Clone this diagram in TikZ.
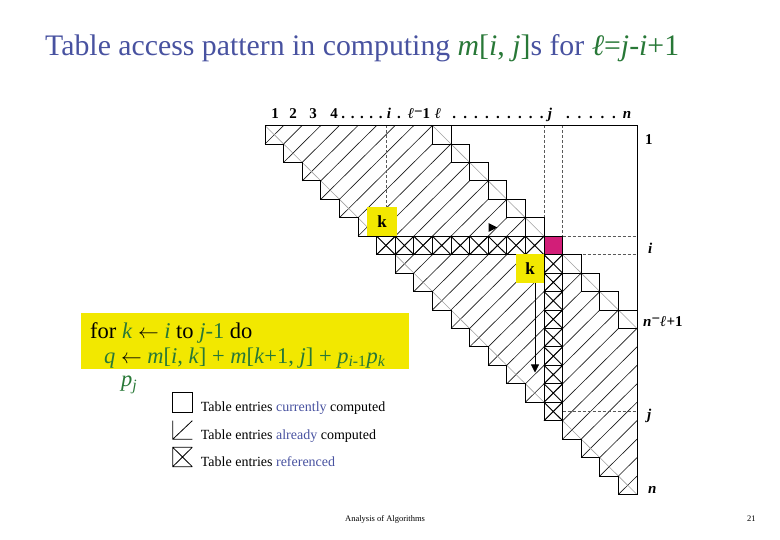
\documentclass[tikz,border=0pt]{standalone}
\usepackage{fontspec}
\setmainfont{Liberation Serif}
\usetikzlibrary{arrows.meta,positioning,calc}
\definecolor{SlideBlue}{RGB}{72,82,160}
\definecolor{SlideGreen}{RGB}{40,120,55}
\definecolor{SlideYellow}{RGB}{242,232,0}
\definecolor{SlideMagenta}{RGB}{210,30,120}
\definecolor{SlideGray}{RGB}{160,160,160}
\newcommand{\pontos}[2]{.\foreach \p in {2,...,#1}{\hspace{#2}.}}
\tikzset{
  hachura/.style={line width=0.65pt, black!90},
  diagcinza/.style={line width=0.6pt, SlideGray},
  degrau/.style={line width=0.8pt, black},
  cruz/.style={line width=0.9pt, black},
  tracejada/.style={dash pattern=on 3pt off 2pt, line width=0.7pt, black!65},
  caixak/.style={fill=SlideYellow, inner sep=0pt, font=\fontsize{17}{17}\selectfont\bfseries},
  rotulo/.style={font=\fontsize{15}{15}\selectfont\bfseries, inner sep=0pt, anchor=base},
  legenda/.style={font=\fontsize{14}{14}\selectfont, anchor=base west, inner sep=0pt},
  codigo/.style={font=\fontsize{22.5}{22.5}\selectfont, anchor=base west, inner sep=0pt},
  seta/.style={-{Triangle[length=8pt,width=8pt]}, line width=0.8pt},
}

\begin{document}
\begin{tikzpicture}[x=1pt,y=-1pt]
  \useasboundingbox (0,0) rectangle (780,540);

  % Titulo
  \node[anchor=base west, inner sep=0pt, font=\fontsize{29.8}{30}\selectfont, text=SlideBlue] (titulo) at (45,56)
    {Table access pattern in computing \textcolor{SlideGreen}{\textit{m}[\textit{i}, \textit{j}]}s for
     \textcolor{SlideGreen}{\textit{ℓ}=\textit{j}-\textit{i}+1}};

  % Tabela m[i,j] (celula (r,c) vai de (c-1,r-1) a (c,r))
  \begin{scope}[shift={(265,125.5)}, x=18.6pt, y=-18.45pt]
    % ja calculadas
    \foreach \r in {1,...,20}{
      \pgfmathtruncatemacro\cmax{min(\r+8,20)}
      \foreach \c in {\r,...,\cmax}
        \draw[hachura] (\c-1,\r) -- (\c,\r-1);
    }
    \draw[diagcinza] (0,0) -- (20,20);
    \draw[diagcinza] (9,0) -- (20,11);

    % linhas de referencia
    \draw[tracejada] (15,0) -- (15,6);
    \draw[tracejada] (16,0) -- (16,6);
    \draw[tracejada] (16,6) -- (20,6);
    \draw[tracejada] (16,7) -- (20,7);
    \draw[tracejada] (16,15.5) -- (20,15.5);
    \draw[tracejada] (6.5,0) -- (6.5,5);

    % entrada atual m[i,j]
    \fill[SlideMagenta] (15,6) rectangle (16,7);

    % entradas referenciadas: linha i e coluna j
    \foreach \c in {7,...,15}{
      \draw[cruz] (\c-1,6) rectangle (\c,7);
      \draw[cruz] (\c-1,6) -- (\c,7) (\c-1,7) -- (\c,6);
    }
    \foreach \r in {8,...,16}{
      \draw[cruz] (15,\r-1) rectangle (16,\r);
      \draw[cruz] (15,\r-1) -- (16,\r) (15,\r) -- (16,\r-1);
    }
    \draw[degrau] (15,6) rectangle (16,7);

    % diagonal atual j-i+1 = l
    \foreach \r in {1,...,11}
      \draw[degrau] (\r+8,\r-1) rectangle (\r+9,\r);

    % contorno
    \draw[degrau] (0,0) -- (20,0) -- (20,20);
    \draw[degrau] (0,0) \foreach \k in {1,...,20}{ -- (\k-1,\k) -- (\k,\k)};
  \end{scope}

  % Indices k
  \node[caixak, minimum width=29.4pt, minimum height=29.3pt] (k1) at (382,221.3) {k};
  \node[caixak, minimum width=28.3pt, minimum height=28.7pt] (k2) at (530.2,268.3) {k};
  \fill (488.5,223) -- (497.3,227.5) -- (488.5,232) -- cycle;
  \coordinate (fimseta) at (535,372.5);
  \draw[seta] (k2.south -| fimseta) -- (fimseta);

  % Rotulos das colunas
  \node[rotulo] (c1) at (275,119) {1};
  \node[rotulo] (c2) at (293,119) {2};
  \node[rotulo] (c3) at (313,119) {3};
  \node[rotulo] (c4) at (334,119) {4};
  \node[rotulo] (d1) at (362,119) {\pontos{5}{5.6pt}};
  \node[rotulo] (ci) at (389,119) {\textit{i}};
  \node[rotulo] (d2) at (399,119) {.};
  \node[rotulo] (cl1) at (419,119) {\textit{ℓ}\raisebox{2pt}{−}1};
  \node[rotulo] (cl) at (438,119) {\textit{ℓ}};
  \node[rotulo] (d3) at (498,119) {\pontos{9}{7.2pt}};
  \node[rotulo] (cj) at (550,119) {\textit{j}};
  \node[rotulo] (d4) at (591,119) {\pontos{5}{7.7pt}};
  \node[rotulo] (cn) at (627,119) {\textit{n}};

  % Rotulos das linhas
  \node[rotulo, anchor=base west] (r1) at (645,145) {1};
  \node[rotulo, anchor=base west] (ri) at (648,254) {\textit{i}};
  \node[rotulo, anchor=base west] (rnl) at (643,327) {\textit{n}\raisebox{3pt}{−}\textit{ℓ}+1};
  \node[rotulo, anchor=base west] (rj) at (647,420) {\textit{j}};
  \node[rotulo, anchor=base west] (rn) at (648,493) {\textit{n}};

  % Laco
  \node[fill=SlideYellow, anchor=north west, inner sep=0pt, minimum width=328pt, minimum height=56.6pt] (laco) at (80.7,312.7) {};
  \node[codigo] (linha1) at (90,338)
    {for \textcolor{SlideGreen}{\textit{k}} $\leftarrow$ \textcolor{SlideGreen}{\textit{i}} to \textcolor{SlideGreen}{\textit{j}-1} do};
  \node[codigo, text=SlideGreen] (linha2) at (104,363)
    {\textit{q} \textcolor{black}{$\leftarrow$} \textit{m}[\textit{i}, \textit{k}] + \textit{m}[\textit{k}+1, \textit{j}] +
     \textit{p}\textsubscript{\textit{i}-1}\textit{p}\textsubscript{\textit{k}}};
  \node[codigo, text=SlideGreen] (linha3) at (121,387) {\textit{p}\textsubscript{\textit{j}}};

  % Legenda
  \draw[line width=0.8pt] (172.7,392.7) rectangle (192.3,412.7);
  \node[legenda] (leg1) at (200.7,411) {Table entries \textcolor{SlideBlue}{currently} computed};
  \draw[line width=0.8pt] (172.7,420.7) -- (172.7,439.3) -- (192.3,439.3) (172.7,439.3) -- (192.3,420.7);
  \node[legenda] (leg2) at (200.7,439) {Table entries \textcolor{SlideBlue}{already} computed};
  \draw[line width=0.8pt] (192.3,447.3) -- (172.7,447.3) -- (172.7,466.7) -- (192.3,466.7)
    (172.7,447.3) -- (192.3,466.7) (172.7,466.7) -- (192.3,447.3);
  \node[legenda] (leg3) at (200.7,466) {Table entries \textcolor{SlideBlue}{referenced}};

  % Rodape
  \node[anchor=base west, inner sep=0pt, font=\fontsize{8.5}{9}\selectfont] (rodape) at (345,521) {Analysis of Algorithms};
  \node[anchor=base west, inner sep=0pt, font=\fontsize{8.5}{9}\selectfont] (pagina) at (747,521) {21};
\end{tikzpicture}
\end{document}
